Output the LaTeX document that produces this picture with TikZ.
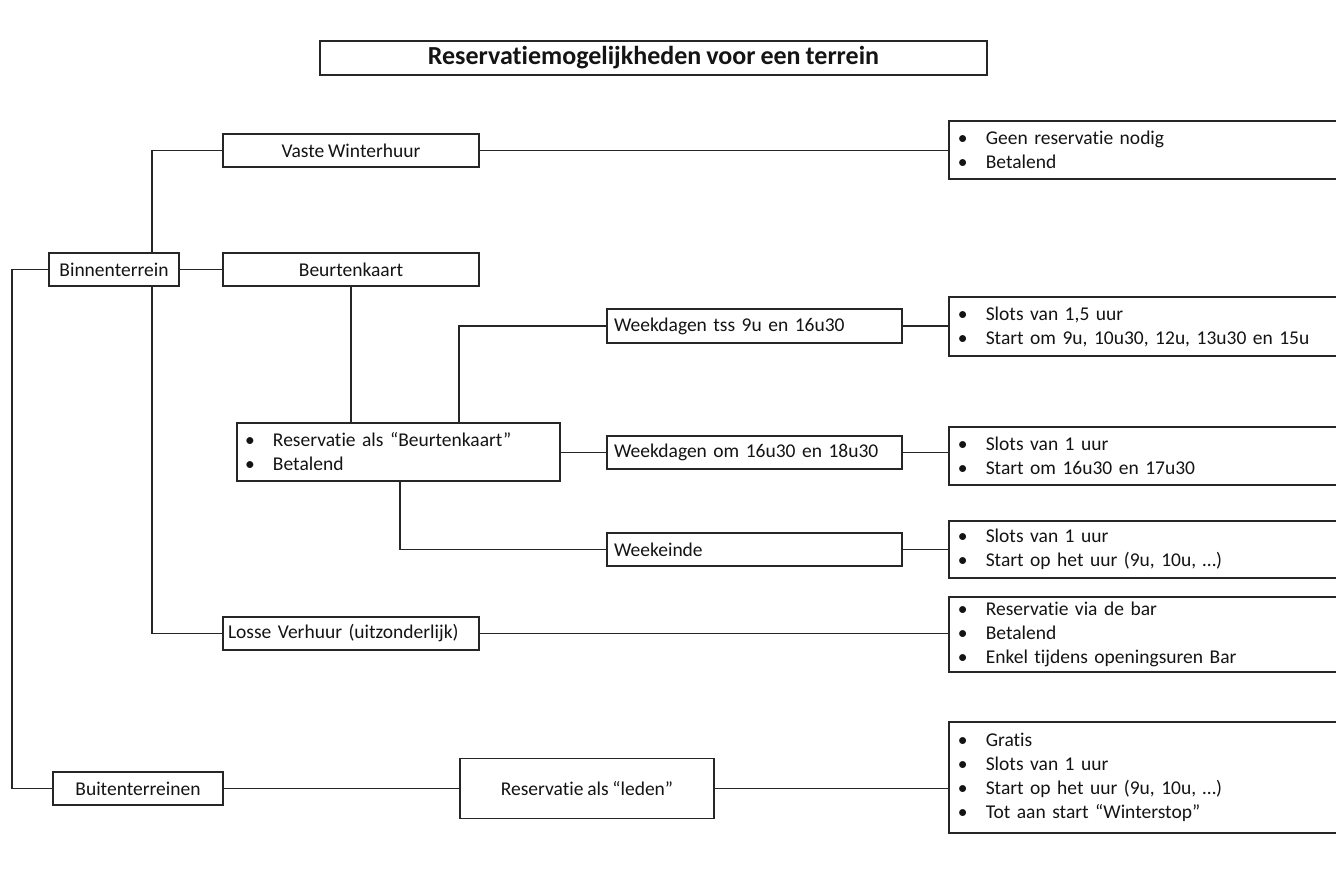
\documentclass[tikz,border=0pt]{standalone}
\usepackage{fontspec}
\setmainfont{Carlito}[Ligatures=NoCommon, WordSpace=0.85]
\begin{document}
\frenchspacing
\begin{tikzpicture}[x=1pt,y=-1pt,
  every node/.style={text=black!92},
  box/.style={draw=black!85, line width=1.6pt, inner sep=0pt, font=\fontsize{19.5}{24}\selectfont\frenchspacing},
  bullets/.style={draw=black!85, line width=1.6pt, inner xsep=9pt, inner ysep=0pt, anchor=west,
     text width=385pt, align=left, font=\fontsize{19.5}{24}\selectfont\frenchspacing},
  conn/.style={draw=black!85, line width=1.5pt}
]
\clip (0,0) rectangle (1336,883);
\fill[white] (0,0) rectangle (1336,883);
\newcommand{\bul}{\makebox[28pt][l]{\textbullet}}

\node[box, minimum width=667pt, minimum height=34pt, font=\fontsize{26}{30}\selectfont\bfseries] (title) at (653.5,58) {Reservatiemogelijkheden voor een terrein};

\node[box, minimum width=256pt, minimum height=33pt] (vwh) at (351,150.5) {Vaste Winterhuur};
\node[box, minimum width=130pt, minimum height=33pt] (bin) at (114,269.5) {Binnenterrein};
\node[box, minimum width=256pt, minimum height=33pt] (beurt) at (351,269.5) {Beurtenkaart};
\node[box, minimum width=323pt, minimum height=58pt, align=left, text width=307pt, inner xsep=8pt] (res) at (398.5,452)
  {\bul Reservatie als “Beurtenkaart”\\ \bul Betalend};
\node[box, minimum width=295pt, minimum height=34pt, text width=281pt, inner xsep=7pt, align=left] (wtss) at (754.5,326) {Weekdagen tss 9u en 16u30};
\node[box, minimum width=295pt, minimum height=33pt, text width=281pt, inner xsep=7pt, align=left] (wom) at (754.5,452.5) {Weekdagen om 16u30 en 18u30};
\node[box, minimum width=295pt, minimum height=33pt, text width=281pt, inner xsep=7pt, align=left] (wke) at (754.5,549.5) {Weekeinde};
\node[box, minimum width=256pt, minimum height=33pt, text width=246pt, inner xsep=5pt, align=left] (losse) at (351,633.5) {Losse Verhuur (uitzonderlijk)};
\node[box, minimum width=170pt, minimum height=33pt] (buit) at (138,788.5) {Buitenterreinen};
\node[box, minimum width=254pt, minimum height=60pt] (leden) at (587,788.5) {Reservatie als “leden”};

\node[bullets, minimum height=58pt] (r1) at (948,150) {\bul Geen reservatie nodig\\ \bul Betalend};
\node[bullets, minimum height=59pt] (r2) at (948,326.5) {\bul Slots van 1,5 uur\\ \bul Start om 9u, 10u30, 12u, 13u30 en 15u};
\node[bullets, minimum height=58pt] (r3) at (948,456) {\bul Slots van 1 uur\\ \bul Start om 16u30 en 17u30};
\node[bullets, minimum height=57pt] (r4) at (948,549.5) {\bul Slots van 1 uur\\ \bul Start op het uur (9u, 10u, …)};
\node[bullets, minimum height=75pt] (r5) at (948,634.5) {\bul Reservatie via de bar\\ \bul Betalend\\ \bul Enkel tijdens openingsuren Bar};
\node[bullets, minimum height=111pt] (r6) at (948,777.5) {\bul Gratis\\ \bul Slots van 1 uur\\ \bul Start op het uur (9u, 10u, …)\\ \bul Tot aan start “Winterstop”};

\coordinate (bx) at (12,0);
\coordinate (vx) at (152,0);
\draw[conn] (bin.west) -- (bin.west -| bx) -- (buit.west -| bx) -- (buit.west);
\draw[conn] (vwh.west) -- (vwh.west -| vx) -- (bin.north -| vx);
\draw[conn] (bin.south -| vx) -- (losse.west -| vx) -- (losse.west);
\draw[conn] (bin.east) -- (beurt.west);
\draw[conn] (vwh.east) -- (vwh.east -| r1.west);
\draw[conn] (beurt.south) -- (beurt.south |- res.north);
\coordinate (rx) at (459,0);
\coordinate (ry) at (400,0);
\draw[conn] (res.north -| rx) -- (wtss.west -| rx) -- (wtss.west);
\draw[conn] (res.east |- wom.west) -- (wom.west);
\draw[conn] (res.south -| ry) -- (wke.west -| ry) -- (wke.west);
\draw[conn] (wtss.east) -- (wtss.east -| r2.west);
\draw[conn] (wom.east) -- (wom.east -| r3.west);
\draw[conn] (wke.east) -- (wke.east -| r4.west);
\draw[conn] (losse.east) -- (losse.east -| r5.west);
\draw[conn] (buit.east) -- (buit.east -| leden.west);
\draw[conn] (leden.east) -- (leden.east -| r6.west);
\end{tikzpicture}
\end{document}
